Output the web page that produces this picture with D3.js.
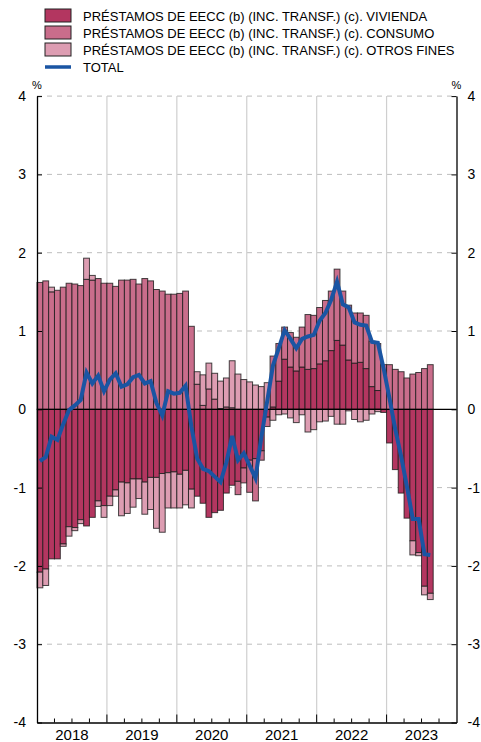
<!DOCTYPE html>
<html>
<head>
<meta charset="UTF-8">
<script src="https://d3js.org/d3.v7.min.js"></script>
<style>
  body { margin: 0; background: #fff; font-family: "Liberation Sans", Arial, sans-serif; }
  svg text { fill: #000; }
</style>
</head>
<body>
<div id="chart"></div>
<script>
// monthly contributions, Jan 2018 - Aug 2023
const years = ['2018', '2019', '2020', '2021', '2022', '2023'];
const yTicks = [-4, -3, -2, -1, 0, 1, 2, 3, 4];
const seriesNames = [
  'PRÉSTAMOS DE EECC (b) (INC. TRANSF.) (c). VIVIENDA',
  'PRÉSTAMOS DE EECC (b) (INC. TRANSF.) (c). CONSUMO',
  'PRÉSTAMOS DE EECC (b) (INC. TRANSF.) (c). OTROS FINES',
  'TOTAL'
];

const vivienda = [
  -2.08, -2.04, -1.91, -1.91, -1.72, -1.50, -1.51, -1.41, -1.49, -1.38, -1.17, -1.23,
  -1.11, -1.03, -0.93, -0.94, -0.89, -0.89, -0.93, -0.87, -0.87, -0.82, -0.81, -0.80,
  -0.83, -0.78, -1.02, -1.11, -1.20, -1.38, -1.32, -1.29, -1.07, -0.97, -0.92, -0.75,
  -0.65, -0.63, -0.53, -0.10, 0.03, 0.36, 0.64, 0.54, 0.49, 0.54, 0.51, 0.52,
  0.58, 0.62, 0.75, 0.88, 0.82, 0.63, 0.59, 0.60, 0.52, 0.29, 0.24, -0.04,
  -0.43, -0.77, -1.07, -1.39, -1.68, -1.83, -2.26, -2.35
];
const consumo = [
  1.62, 1.64, 1.50, 1.52, 1.56, 1.61, 1.60, 1.58, 1.66, 1.65, 1.67, 1.61,
  1.61, 1.57, 1.65, 1.65, 1.66, 1.60, 1.67, 1.64, 1.53, 1.51, 1.47, 1.47,
  1.48, 1.51, 1.06, 0.32, 0.05, 0.26, 0.13, 0.01, 0.03, 0.02, -0.17, -0.19,
  -0.41, -0.54, -0.12, -0.12, 0.65, 0.48, 0.41, 0.44, 0.43, 0.51, 0.70, 0.68,
  0.72, 0.77, 0.76, 0.91, 0.69, 0.70, 0.64, 0.63, 0.68, 0.58, 0.60, 0.57,
  0.57, 0.51, 0.48, 0.40, 0.45, 0.47, 0.52, 0.57
];
const otros = [
  -0.20, -0.21, 0.06, 0.00, -0.03, -0.12, -0.04, -0.05, 0.27, 0.06, -0.07, -0.15,
  -0.12, -0.08, -0.43, -0.39, -0.36, -0.25, -0.41, -0.41, -0.65, -0.75, -0.45, -0.46,
  -0.43, -0.44, -0.24, 0.16, 0.39, 0.33, 0.33, 0.35, 0.37, 0.60, 0.45, 0.38,
  0.35, 0.31, 0.29, 0.34, -0.14, -0.07, -0.06, -0.11, -0.17, -0.07, -0.29, -0.26,
  -0.16, -0.15, -0.09, -0.19, -0.19, -0.02, -0.13, -0.16, -0.14, -0.06, -0.03, 0.00,
  0.00, 0.00, 0.00, 0.00, -0.18, -0.04, -0.11, -0.08
];
const total = [
  -0.66, -0.61, -0.35, -0.39, -0.19, -0.01, 0.05, 0.12, 0.47, 0.33, 0.43, 0.23,
  0.38, 0.46, 0.29, 0.32, 0.41, 0.44, 0.33, 0.36, 0.08, -0.08, 0.23, 0.20,
  0.21, 0.30, -0.22, -0.63, -0.76, -0.79, -0.86, -0.93, -0.68, -0.34, -0.65, -0.56,
  -0.72, -0.88, -0.36, 0.10, 0.56, 0.78, 1.01, 0.90, 0.78, 0.90, 0.93, 0.95,
  1.13, 1.23, 1.40, 1.63, 1.34, 1.30, 1.11, 1.08, 1.07, 0.86, 0.85, 0.52,
  0.14, -0.26, -0.60, -0.99, -1.40, -1.40, -1.85, -1.86
];

const colors = ['#b33660', '#c96d8b', '#dd9db2'];
const lineColor = '#1a55a3';

const W = 481, H = 742;
const plot = { left: 37, right: 456.5, top: 96.1, bottom: 722.5 };

const months = years.flatMap(y => d3.range(12).map(m => y + '-' + (m + 1)));
const rows = vivienda.map((v, i) => ({ m: months[i], vivienda: v, consumo: consumo[i], otros: otros[i], total: total[i] }));

const x = d3.scaleBand().domain(months).range([plot.left, plot.right]).padding(0);
const y = d3.scaleLinear().domain([-4, 4]).range([plot.bottom, plot.top]);
const yearX = d3.scaleBand().domain(years).range([plot.left, plot.right]);

const svg = d3.select('#chart').append('svg')
  .attr('width', W).attr('height', H);

// grid
svg.append('g').selectAll('line')
  .data(yTicks.filter(t => t !== 0 && t !== -4))
  .join('line')
  .attr('x1', plot.left).attr('x2', plot.right)
  .attr('y1', d => y(d)).attr('y2', d => y(d))
  .attr('stroke', '#bdbdbd').attr('stroke-dasharray', '5,5');

svg.append('g').selectAll('line')
  .data(years.slice(1))
  .join('line')
  .attr('x1', d => yearX(d)).attr('x2', d => yearX(d))
  .attr('y1', plot.top).attr('y2', plot.bottom)
  .attr('stroke', '#cfcfcf').attr('stroke-width', 1.2);

// stacked bars
const keys = ['vivienda', 'consumo', 'otros'];
const stack = d3.stack().keys(keys).offset(d3.stackOffsetDiverging)(rows);

svg.append('g').selectAll('g')
  .data(stack)
  .join('g')
  .attr('fill', (d, i) => colors[i])
  .selectAll('rect')
  .data(d => d)
  .join('rect')
  .attr('x', d => x(d.data.m))
  .attr('width', x.bandwidth())
  .attr('y', d => y(Math.max(d[0], d[1])))
  .attr('height', d => Math.abs(y(d[0]) - y(d[1])))
  .attr('stroke', '#1a1a1a').attr('stroke-opacity', 0.8).attr('stroke-width', 1);

// zero line
svg.append('line')
  .attr('x1', plot.left).attr('x2', plot.right)
  .attr('y1', y(0)).attr('y2', y(0))
  .attr('stroke', '#000').attr('stroke-width', 1.2);

// total line
const line = d3.line()
  .x(d => x(d.m) + x.bandwidth() / 2)
  .y(d => y(d.total));

svg.append('path')
  .datum(rows)
  .attr('fill', 'none')
  .attr('stroke', lineColor)
  .attr('stroke-width', 4)
  .attr('stroke-linejoin', 'miter')
  .attr('d', line);

// axes
const fmt = d => String(d);
const left = svg.append('g').attr('transform', `translate(${plot.left},0)`)
  .call(d3.axisLeft(y).tickValues(yTicks).tickFormat(fmt).tickSizeInner(-5).tickSizeOuter(0).tickPadding(11));
const right = svg.append('g').attr('transform', `translate(${plot.right},0)`)
  .call(d3.axisRight(y).tickValues(yTicks).tickFormat(fmt).tickSizeInner(-5).tickSizeOuter(0).tickPadding(11));
[left, right].forEach(g => {
  g.select('.domain').attr('stroke', '#000').attr('stroke-width', 1.3);
  g.selectAll('text').attr('font-size', 14).attr('font-family', '"Liberation Sans", Arial, sans-serif');
});

const quarterTicks = months.filter((m, i) => i % 3 === 0);
const bottom = svg.append('g').attr('transform', `translate(0,${plot.bottom})`)
  .call(d3.axisBottom(x).tickValues(quarterTicks).tickFormat('').tickSizeInner(-4).tickSizeOuter(0));
bottom.select('.domain').attr('stroke', '#000').attr('stroke-width', 1.3);
bottom.selectAll('.tick line')
  .attr('transform', `translate(${-x.bandwidth() / 2},0)`)
  .attr('y2', (d, i) => i % 4 === 0 ? -8 : -4);
bottom.selectAll('.tick').filter((d, i) => i === 0).remove();

svg.append('g').selectAll('text')
  .data(years)
  .join('text')
  .attr('x', d => yearX(d) + yearX.bandwidth() / 2)
  .attr('y', 740)
  .attr('text-anchor', 'middle')
  .attr('font-size', 15)
  .text(d => d);

svg.append('text').attr('x', plot.left).attr('y', 89).attr('text-anchor', 'middle').attr('font-size', 11).text('%');
svg.append('text').attr('x', plot.right).attr('y', 89).attr('text-anchor', 'middle').attr('font-size', 11).text('%');

// legend
const legend = svg.append('g').selectAll('g')
  .data(seriesNames)
  .join('g')
  .attr('transform', (d, i) => `translate(45,${9 + i * 17})`);

legend.filter((d, i) => i < 3).append('rect')
  .attr('width', 26).attr('height', 13)
  .attr('fill', (d, i) => colors[i])
  .attr('stroke', '#222').attr('stroke-width', 1);

legend.filter((d, i) => i === 3).append('line')
  .attr('x1', 0).attr('x2', 26).attr('y1', 7).attr('y2', 7)
  .attr('stroke', lineColor).attr('stroke-width', 3.5);

legend.append('text')
  .attr('x', 38).attr('y', 11.5)
  .attr('font-size', 13)
  .text(d => d);
</script>
</body>
</html>
